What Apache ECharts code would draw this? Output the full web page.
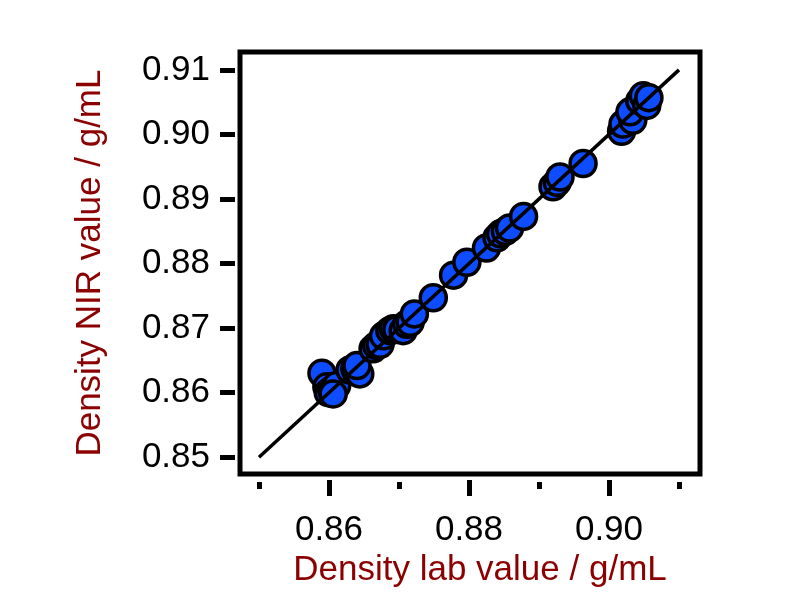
<!DOCTYPE html>
<html>
<head>
<meta charset="utf-8">
<script src="https://cdn.jsdelivr.net/npm/echarts@6/dist/echarts.min.js"></script>
<style>html,body{margin:0;padding:0;background:#fff}#c{width:800px;height:593px}</style>
</head>
<body>
<div id="c"></div>
<script>
const labValues = [0.8590,0.8597,0.8599,0.8604,0.8611,0.8606,0.8630,0.8637,0.8644,0.8640,0.8663,0.8668,0.8673,0.8678,0.8687,0.8692,0.8697,0.8706,0.8711,0.8716,0.8722,0.8749,0.8778,0.8797,0.8825,0.8840,0.8845,0.8852,0.8858,0.8878,0.8920,0.8926,0.8930,0.8963,0.9018,0.9020,0.9034,0.9030,0.9044,0.9049,0.9054,0.9057];
const nirValues = [0.8630,0.8609,0.8600,0.8604,0.8611,0.8598,0.8635,0.8637,0.8629,0.8642,0.8668,0.8673,0.8675,0.8688,0.8696,0.8699,0.8698,0.8696,0.8706,0.8709,0.8722,0.8747,0.8782,0.8802,0.8824,0.8840,0.8846,0.8850,0.8855,0.8873,0.8919,0.8926,0.8934,0.8955,0.9005,0.9016,0.9022,0.9035,0.9052,0.9060,0.9045,0.9057];
const lineX = [0.85, 0.91];
const lineY = [0.85, 0.91];
const xMinorTicks = [0.85,0.87,0.89,0.91];
const xMajorTicks = [0.86,0.88,0.90];
const yTicks = [0.85,0.86,0.87,0.88,0.89,0.90,0.91];

const points = labValues.map((v,i)=>[v, nirValues[i]]);
const linePts = lineX.map((v,i)=>[v, lineY[i]]);

const font = 'Liberation Sans, Arial, sans-serif';
const xMin = 0.84729, xMax = 0.913, yMin = 0.84738, yMax = 0.91277;
const gridBox = {left:240, right:100, top:52, bottom:117};

const chart = echarts.init(document.getElementById('c'), null, {renderer:'canvas'});
chart.setOption({
  animation:false,
  backgroundColor:'#fff',
  grid:[
    Object.assign({show:true, borderColor:'#000', borderWidth:5, backgroundColor:'transparent'}, gridBox),
    Object.assign({show:false}, gridBox)
  ],
  xAxis:[{
    gridIndex:0, type:'value', min:xMin, max:xMax, position:'bottom', offset:6,
    axisLine:{show:false},
    splitLine:{show:false},
    axisTick:{show:true, length:16, customValues:xMajorTicks, lineStyle:{color:'#010101', width:5}},
    axisLabel:{show:true, customValues:xMajorTicks, margin:33, color:'#000', fontSize:35, fontFamily:font, formatter:v=>v.toFixed(2)},
    name:'Density lab value / g/mL', nameLocation:'middle', nameGap:72,
    nameTextStyle:{color:'#8b0000', fontSize:35, fontFamily:font, padding:[0,0,0,20]}
  },{
    gridIndex:1, type:'value', min:xMin, max:xMax, position:'bottom', offset:6,
    axisLine:{show:false}, splitLine:{show:false},
    axisTick:{show:true, length:7, customValues:xMinorTicks, lineStyle:{color:'#010101', width:5}},
    axisLabel:{show:false}
  }],
  yAxis:[{
    gridIndex:0, type:'value', min:yMin, max:yMax, position:'left', offset:5,
    axisLine:{show:false}, splitLine:{show:false},
    axisTick:{show:true, length:15, customValues:yTicks, lineStyle:{color:'#000', width:5}},
    axisLabel:{show:true, customValues:yTicks, margin:25, color:'#000', fontSize:35, fontFamily:font, formatter:v=>v.toFixed(2)},
    name:'Density NIR value / g/mL', nameLocation:'middle', nameGap:127,
    nameTextStyle:{color:'#8b0000', fontSize:35, fontFamily:font}
  },{
    gridIndex:1, type:'value', min:yMin, max:yMax, show:false
  }],
  series:[{
    type:'scatter', data:points, xAxisIndex:0, yAxisIndex:0,
    symbol:'circle', symbolSize:26,
    itemStyle:{color:'#0d4cff', borderColor:'#000', borderWidth:3.5, opacity:1},
    z:2
  },{
    type:'line', data:linePts, xAxisIndex:0, yAxisIndex:0,
    symbol:'none', lineStyle:{color:'#000', width:3.5}, z:3
  }]
});
</script>
</body>
</html>
